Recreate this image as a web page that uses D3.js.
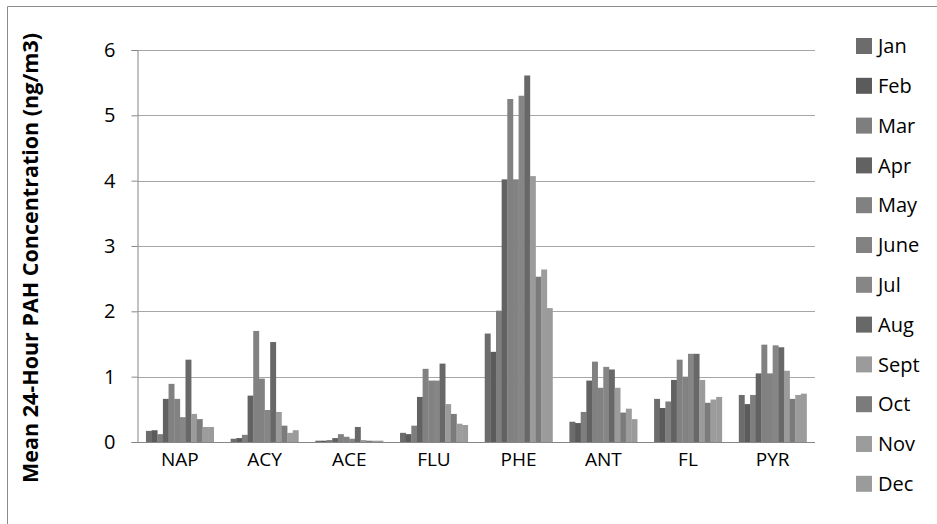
<!DOCTYPE html>
<html><head><meta charset="utf-8">
<script src="https://cdn.jsdelivr.net/npm/d3@7"></script>
<style>body{margin:0;background:#fff}svg{display:block}text{font-family:"Open Sans","Liberation Sans",sans-serif}</style>
</head><body><svg id="c" width="937" height="524"></svg>
<script>
const categories = ["NAP","ACY","ACE","FLU","PHE","ANT","FL","PYR"];
const months = ["Jan","Feb","Mar","Apr","May","June","Jul","Aug","Sept","Oct","Nov","Dec"];
const monthColors = ["#6c6c6c","#5b5b5b","#7e7e7e","#626262","#818181","#828282","#868686","#686868","#9b9b9b","#7b7b7b","#9c9c9c","#9b9b9b"];
// values per category, ordered Jan..Dec
const NAP = [0.17,0.18,0.12,0.66,0.89,0.66,0.38,1.26,0.43,0.35,0.23,0.23];
const ACY = [0.05,0.06,0.11,0.71,1.70,0.97,0.49,1.53,0.46,0.25,0.14,0.18];
const ACE = [0.02,0.02,0.03,0.06,0.12,0.08,0.05,0.23,0.03,0.02,0.02,0.02];
const FLU = [0.14,0.12,0.25,0.69,1.12,0.94,0.94,1.20,0.58,0.43,0.28,0.26];
const PHE = [1.66,1.38,2.01,4.02,5.25,4.02,5.30,5.61,4.07,2.53,2.64,2.05];
const ANT = [0.31,0.29,0.46,0.94,1.23,0.83,1.15,1.11,0.83,0.45,0.51,0.35];
const FL  = [0.66,0.52,0.62,0.95,1.26,1.00,1.35,1.35,0.95,0.60,0.65,0.69];
const PYR = [0.72,0.58,0.72,1.05,1.49,1.05,1.48,1.45,1.09,0.66,0.72,0.74];
const seriesByCat = [NAP,ACY,ACE,FLU,PHE,ANT,FL,PYR];
const yTicks = [0,1,2,3,4,5,6];
const yTitle = "Mean 24-Hour PAH Concentration (ng/m3)";

const svg = d3.select("#c");
const L = 137.5, R = 815, T = 50, B = 442;
const x0 = d3.scaleBand().domain(categories).range([L,R]).paddingInner(0.2).paddingOuter(0.1);
const x1 = d3.scaleBand().domain(months).range([0,x0.bandwidth()]);
const y = d3.scaleLinear().domain([0,6]).range([B,T]);

// outer border (left and top visible)
svg.append("path").attr("d","M7.5,530V6.5H940").attr("fill","none").attr("stroke","#8c8c8c").attr("stroke-width",1);

// gridlines
svg.append("g").selectAll("line").data(yTicks.filter(d=>d>0)).join("line")
  .attr("x1",L).attr("x2",R).attr("y1",d=>Math.round(y(d))+0.5).attr("y2",d=>Math.round(y(d))+0.5)
  .attr("stroke","#a6a6a6").attr("stroke-width",1);

// bars
const g = svg.append("g");
categories.forEach((c,ci)=>{
  g.append("g").attr("transform",`translate(${x0(c)},0)`)
   .selectAll("rect").data(seriesByCat[ci]).join("rect")
   .attr("x",(d,i)=>x1(months[i])).attr("width",x1.bandwidth()+0.3)
   .attr("y",d=>y(d)).attr("height",d=>B-y(d))
   .attr("fill",(d,i)=>monthColors[i]);
});

// y axis
const ya = svg.append("g").attr("transform",`translate(${L},0)`)
  .call(d3.axisLeft(y).tickValues(yTicks).tickFormat(d3.format("d")).tickSize(6).tickPadding(16));
ya.select(".domain").attr("stroke","#868686");
ya.selectAll(".tick line").attr("stroke","#868686");
ya.selectAll("text").attr("font-size",20).attr("fill","#000");

// x axis
const xa = svg.append("g").attr("transform",`translate(0,${B})`)
  .call(d3.axisBottom(x0).tickSize(0).tickPadding(11).tickSizeOuter(0));
xa.select(".domain").attr("stroke","#868686").attr("d",`M${L},0.5H${R}`);
xa.selectAll("text").attr("font-size",19).attr("fill","#000");

// y title
svg.append("text").attr("transform","translate(38,258) rotate(-90)")
  .attr("text-anchor","middle").attr("font-weight","bold").attr("font-size",21.5)
  .attr("fill","#000").text(yTitle);

// legend
const lg = svg.append("g").selectAll("g").data(months).join("g")
  .attr("transform",(d,i)=>`translate(856,${46+i*39.8})`);
lg.append("rect").attr("x",0).attr("y",-8).attr("width",16).attr("height",16)
  .attr("fill",(d,i)=>monthColors[i]);
lg.append("text").attr("x",22).attr("y",0).attr("dy","0.36em").attr("font-size",20).attr("fill","#000").text(d=>d);
</script></body></html>
